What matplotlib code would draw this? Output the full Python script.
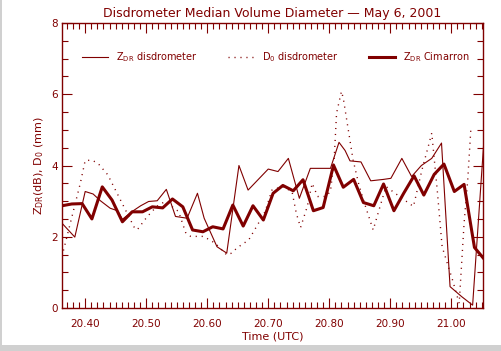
import matplotlib
matplotlib.use("Agg")
import matplotlib.pyplot as plt
from matplotlib.patches import Rectangle
from matplotlib.ticker import MultipleLocator

# Z_DR Cimarron (radar), thick line
t_cim = [20.362, 20.378, 20.395, 20.411, 20.428, 20.444, 20.461, 20.477,
         20.494, 20.510, 20.527, 20.543, 20.560, 20.576, 20.593, 20.609,
         20.626, 20.642, 20.659, 20.675, 20.692, 20.708, 20.724, 20.741,
         20.757, 20.774, 20.790, 20.807, 20.823, 20.840, 20.856, 20.873,
         20.889, 20.906, 20.922, 20.939, 20.955, 20.972, 20.988, 21.005,
         21.021, 21.038, 21.054]
zdr_cim = [2.87, 2.92, 2.93, 2.50, 3.40, 3.03, 2.42, 2.70, 2.70, 2.84, 2.81,
           3.06, 2.84, 2.19, 2.14, 2.28, 2.22, 2.89, 2.30, 2.87, 2.47, 3.22,
           3.44, 3.29, 3.60, 2.73, 2.82, 4.01, 3.39, 3.61, 2.96, 2.87, 3.48,
           2.73, 3.22, 3.71, 3.17, 3.75, 4.04, 3.27, 3.47, 1.70, 1.37]

# Z_DR disdrometer, thin line
t_zdr = [20.362, 20.383, 20.400, 20.413, 20.425, 20.441, 20.453, 20.461,
         20.477, 20.491, 20.504, 20.518, 20.533, 20.548, 20.567, 20.584,
         20.595, 20.616, 20.632, 20.652, 20.667, 20.700, 20.716, 20.733,
         20.751, 20.769, 20.802, 20.816, 20.826, 20.834, 20.852, 20.868,
         20.889, 20.901, 20.919, 20.935, 20.951, 20.968, 20.984, 20.998,
         21.017, 21.035, 21.053]
zdr_dis = [2.38, 1.99, 3.27, 3.20, 3.01, 2.80, 2.73, 2.49, 2.71, 2.87, 2.99,
           3.01, 3.33, 2.57, 2.52, 3.22, 2.52, 1.72, 1.54, 4.00, 3.31, 3.90,
           3.83, 4.20, 3.08, 3.92, 3.92, 4.65, 4.42, 4.13, 4.10, 3.57, 3.61,
           3.64, 4.20, 3.69, 4.00, 4.20, 4.63, 0.60, 0.32, 0.08, 4.58]

# D0 disdrometer, dotted line
t_d0 = [20.362, 20.392, 20.400, 20.411, 20.421, 20.437, 20.457, 20.467,
        20.482, 20.486, 20.501, 20.517, 20.531, 20.553, 20.565, 20.573,
        20.594, 20.613, 20.632, 20.640, 20.649, 20.668, 20.684, 20.695,
        20.706, 20.723, 20.739, 20.746, 20.753, 20.764, 20.772, 20.781,
        20.794, 20.802, 20.808, 20.812, 20.820, 20.823, 20.839, 20.848,
        20.856, 20.872, 20.880, 20.893, 20.912, 20.938, 20.952, 20.963,
        20.968, 20.977, 20.985, 21.002, 21.013, 21.021, 21.027, 21.032]
d0_dis = [1.45, 3.50, 4.14, 4.15, 4.06, 3.74, 3.06, 2.72, 2.21, 2.21, 2.55,
          2.85, 2.99, 2.71, 2.10, 2.01, 2.01, 1.82, 1.49, 1.54, 1.69, 1.91,
          2.38, 2.71, 3.31, 3.41, 3.27, 2.66, 2.26, 2.85, 3.50, 3.13, 3.13,
          3.27, 4.16, 5.47, 6.08, 5.89, 4.16, 3.50, 3.03, 2.19, 2.66, 3.41,
          3.17, 2.85, 3.88, 4.58, 4.91, 3.31, 1.72, 0.79, 0.13, 2.38, 3.60,
          5.00]

red = "#800000"
plt.rcParams["font.family"] = "DejaVu Sans"
plt.rcParams["mathtext.default"] = "regular"

fig = plt.figure(figsize=(5.02, 3.51), dpi=100, facecolor="#d0d0d0")
fig.patches.append(Rectangle((2 / 502, 6 / 351), 1, 1, transform=fig.transFigure,
                             facecolor="white", edgecolor="none", zorder=-10))
ax = fig.add_axes([62 / 502, 43 / 351, 421 / 502, 285 / 351])
ax.set_facecolor("white")

ax.plot(t_zdr, zdr_dis, color=red, lw=0.8, label="Z$_{DR}$ disdrometer")
ax.plot(t_d0, d0_dis, color=red, lw=1.0, linestyle=(0, (0.8, 3.5)),
        label="D$_0$ disdrometer")
ax.plot(t_cim, zdr_cim, color=red, lw=2.2, label="Z$_{DR}$ Cimarron")

ax.set_xlim(20.362, 21.052)
ax.set_ylim(0, 8)
ax.xaxis.set_major_locator(MultipleLocator(0.1))
ax.xaxis.set_minor_locator(MultipleLocator(0.01))
ax.yaxis.set_major_locator(MultipleLocator(2))
ax.yaxis.set_minor_locator(MultipleLocator(0.5))
ax.xaxis.set_major_formatter(lambda v, p: "%.2f" % v)
ax.tick_params(which="both", direction="in", top=True, right=True,
               colors=red, labelsize=7.5, width=0.8)
ax.tick_params(which="major", length=7)
ax.tick_params(which="minor", length=4)
ax.tick_params(axis="x", which="major", pad=8)
ax.tick_params(axis="y", which="major", pad=3)
for s in ax.spines.values():
    s.set_color(red)
    s.set_linewidth(1.0)

ax.set_title("Disdrometer Median Volume Diameter \u2014 May 6, 2001",
             color=red, fontsize=9, pad=4)
ax.set_xlabel("Time (UTC)", color=red, fontsize=8, labelpad=2)
ax.set_ylabel("Z$_{DR}$(dB), D$_0$ (mm)", color=red, fontsize=8, labelpad=4)

leg = ax.legend(ncol=3, frameon=False, loc="center left",
                bbox_to_anchor=(0.0475, 0.88), borderaxespad=0, borderpad=0,
                fontsize=7, handlelength=2.7, handletextpad=0.8,
                columnspacing=3.1)
for txt in leg.get_texts():
    txt.set_color(red)

fig.savefig("out.png", dpi=100, facecolor=fig.get_facecolor())
